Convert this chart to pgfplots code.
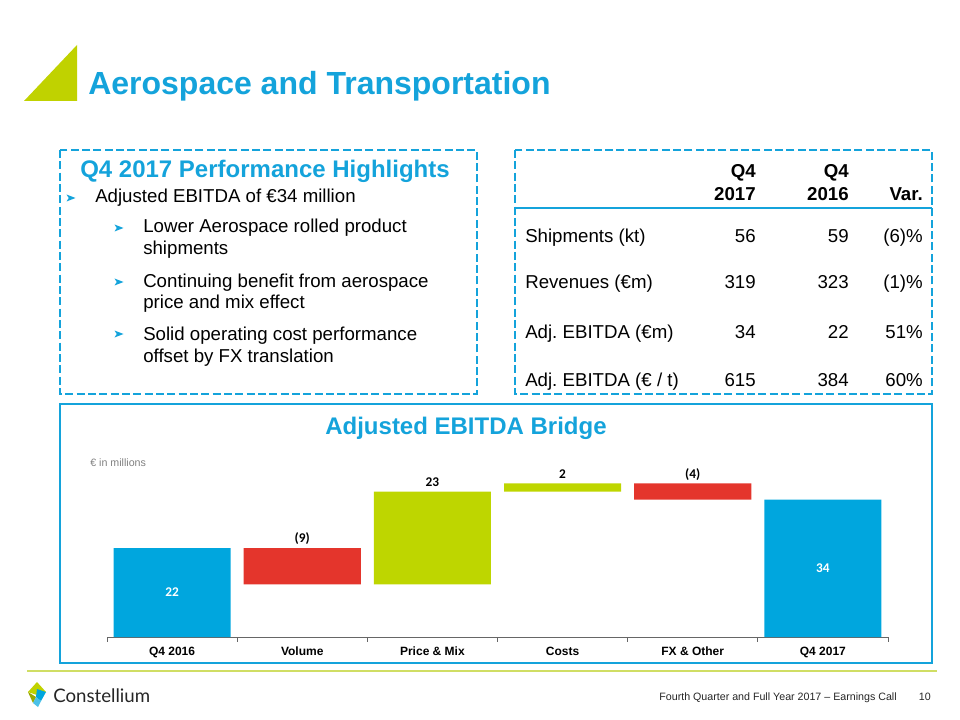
\documentclass[border=0pt]{standalone}
\usepackage{pgfplots}
\pgfplotsset{compat=1.18}
\usepackage{fontspec}
\setmainfont{Liberation Sans}
\newfontfamily\carlito{Carlito}
\newfontfamily\lato{Lato}
\definecolor{cblue}{RGB}{0,166,222}
\definecolor{tblue}{RGB}{20,163,219}
\definecolor{cred}{RGB}{228,53,44}
\definecolor{cgreen}{RGB}{190,214,0}
\definecolor{tgreen}{RGB}{192,210,0}
\definecolor{lgreen}{RGB}{208,222,100}
\newcommand{\fs}[1]{\fontsize{#1}{#1}\selectfont}
\newcommand{\abullet}[2]{\fill[tblue] ({#1-4.5},{#2-3.5}) -- ({#1+4.5},#2) -- ({#1-4.5},{#2+3.5}) -- ({#1-2.2},#2) -- cycle;}
\frenchspacing
\begin{document}
\begin{tikzpicture}
\begin{scope}[x=0.75pt,y=-0.75pt]
\useasboundingbox (0,0) rectangle (960,720);
% header
\fill[tgreen] (24,101) -- (77,45) -- (77,101) -- cycle;
\node[anchor=base west, inner sep=0, text=tblue, font=\bfseries\fs{24}] at (88,95) {Aerospace and Transportation};
% left box
\draw[tblue, line width=1.8pt, dash pattern=on 6pt off 2.5pt] (60,150) rectangle (477,394);
\node[anchor=base, inner sep=0, text=tblue, font=\bfseries\fs{18}] at (265,178) {Q4 2017 Performance Highlights};
\abullet{71}{198}
\node[anchor=base west, inner sep=0, font=\fs{14}] at (95,203) {Adjusted EBITDA of €34 million};
\abullet{119}{228}
\node[anchor=base west, inner sep=0, font=\fs{14}] at (143,233) {Lower Aerospace rolled product};
\node[anchor=base west, inner sep=0, font=\fs{14}] at (143,255) {shipments};
\abullet{119}{282}
\node[anchor=base west, inner sep=0, font=\fs{14}] at (143,287) {Continuing benefit from aerospace};
\node[anchor=base west, inner sep=0, font=\fs{14}] at (143,308) {price and mix effect};
\abullet{119}{334}
\node[anchor=base west, inner sep=0, font=\fs{14}] at (143,340) {Solid operating cost performance};
\node[anchor=base west, inner sep=0, font=\fs{14}] at (143,362) {offset by FX translation};
% right box (table)
\draw[tblue, line width=1.8pt, dash pattern=on 6pt off 2.5pt] (515,150) rectangle (932,394);
\draw[tblue, line width=1.5pt] (515,208) -- (932,208);
\begin{scope}[every node/.style={inner sep=0, font=\fs{14}}]
\node[anchor=base east, font=\bfseries\fs{14}] at (756,178) {Q4};
\node[anchor=base east, font=\bfseries\fs{14}] at (756,201) {2017};
\node[anchor=base east, font=\bfseries\fs{14}] at (849,178) {Q4};
\node[anchor=base east, font=\bfseries\fs{14}] at (849,201) {2016};
\node[anchor=base east, font=\bfseries\fs{14}] at (923,201) {Var.};
\node[anchor=base west] at (525,243) {Shipments (kt)};
\node[anchor=base east] at (756,243) {56};
\node[anchor=base east] at (849,243) {59};
\node[anchor=base east] at (923,243) {(6)\%};
\node[anchor=base west] at (525,288) {Revenues (€m)};
\node[anchor=base east] at (756,288) {319};
\node[anchor=base east] at (849,288) {323};
\node[anchor=base east] at (923,288) {(1)\%};
\node[anchor=base west] at (525,338) {Adj. EBITDA (€m)};
\node[anchor=base east] at (756,338) {34};
\node[anchor=base east] at (849,338) {22};
\node[anchor=base east] at (923,338) {51\%};
\node[anchor=base west] at (525,386) {Adj. EBITDA (€ / t)};
\node[anchor=base east] at (756,386) {615};
\node[anchor=base east] at (849,386) {384};
\node[anchor=base east] at (923,386) {60\%};
\end{scope}
% chart box
\draw[tblue, line width=2.2pt] (60,404) rectangle (932,663);
\node[anchor=base, inner sep=0, text=tblue, font=\bfseries\fs{18}] at (466,434) {Adjusted EBITDA Bridge};
\node[anchor=base west, inner sep=0, text=black!50, font=\fs{8}] at (90,466) {€ in millions};
% footer
\draw[lgreen, line width=0.8pt] (27,671) -- (937,671);
\fill[tgreen] (37,682) -- (46,692) -- (37,695) -- (28,692) -- cycle;
\fill[cblue] (37,689) -- (46,692) -- (41,701) -- (36,697) -- cycle;
\fill[tgreen!80!black] (28,692) -- (36,697) -- (33,703) -- cycle;
\fill[cblue!70] (36,697) -- (41,701) -- (38,707) -- (33,703) -- cycle;
\node[anchor=base west, inner sep=0, text=black!85, font=\lato\fs{14}] at (53,702) {Constellium};
\node[anchor=base east, inner sep=0, text=black!85, font=\fs{8}] at (897,700) {Fourth Quarter and Full Year 2017 – Earnings Call};
\node[anchor=base east, inner sep=0, text=black!85, font=\fs{8}] at (931,700) {10};
\end{scope}
\begin{axis}[
  at={(80.25pt,-477.75pt)}, anchor=south west,
  scale only axis, width=585.75pt, height=121.2pt,
  xmin=-0.5, xmax=5.5, ymin=0, ymax=40,
  ybar stacked, bar width=0.9,
  axis x line=bottom, axis y line=none,
  x axis line style={-, black!60, line width=0.6pt},
  xtick={0,1,2,3,4,5},
  xticklabels={Q4 2016, Volume, Price \& Mix, Costs, FX \& Other, Q4 2017},
  major tick length=0pt,
  minor xtick={-0.5,0.5,1.5,2.5,3.5,4.5,5.5},
  minor tick length=3.5pt, tick align=outside,
  minor tick style={black!60, line width=0.6pt},
  xticklabel style={font=\bfseries\fs{9}, anchor=base, yshift=-13.5pt},
  clip=false,
]
\addplot[fill=none, draw=none] coordinates {(0,0) (1,13) (2,13) (3,36) (4,34) (5,0)};
\addplot[fill=cblue, draw=none] coordinates {(0,22) (1,0) (2,0) (3,0) (4,0) (5,34)};
\addplot[fill=cred, draw=none] coordinates {(0,0) (1,9) (2,0) (3,0) (4,4) (5,0)};
\addplot[fill=cgreen, draw=none] coordinates {(0,0) (1,0) (2,23) (3,2) (4,0) (5,0)};
\coordinate (L0) at (axis cs:0,11);
\coordinate (L5) at (axis cs:5,17);
\coordinate (L1) at (axis cs:1,22);
\coordinate (L2) at (axis cs:2,36);
\coordinate (L3) at (axis cs:3,38);
\coordinate (L4) at (axis cs:4,38);
\end{axis}
\begin{scope}[every node/.style={font=\carlito\bfseries\fs{10}, inner sep=0}]
\node[text=white] at (L0) {22};
\node[text=white] at (L5) {34};
\node[yshift=7pt] at (L1) {(9)};
\node[yshift=7pt] at (L2) {23};
\node[yshift=7pt] at (L3) {2};
\node[yshift=7pt] at (L4) {(4)};
\end{scope}
\end{tikzpicture}
\end{document}
